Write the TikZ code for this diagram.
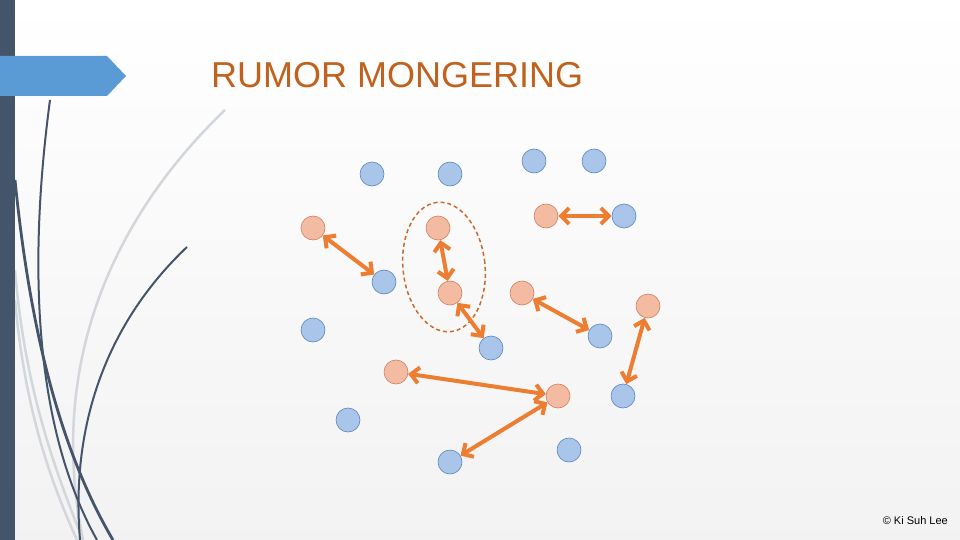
\documentclass[tikz,border=0pt]{standalone}
\usepackage{fontspec}
\setmainfont{Liberation Sans}
\usetikzlibrary{arrows.meta,shapes.geometric}

\definecolor{slate}{HTML}{44546A}
\definecolor{banner}{HTML}{5B9BD5}
\definecolor{titlec}{HTML}{C0621E}
\definecolor{bfill}{HTML}{A9C5E9}
\definecolor{bline}{HTML}{5A86BE}
\definecolor{ofill}{HTML}{F4BBA3}
\definecolor{oline}{HTML}{CF7F5F}
\definecolor{rumorc}{HTML}{ED7D31}
\definecolor{swooshg}{HTML}{D3D6DB}

\begin{document}
\begin{tikzpicture}[x=1pt,y=-1pt,
  bdot/.style={circle,draw=bline,fill=bfill,line width=0.6pt,minimum size=24pt,inner sep=0pt},
  odot/.style={circle,draw=oline,fill=ofill,line width=0.6pt,minimum size=24pt,inner sep=0pt},
  rumor/.style={draw=rumorc,line width=4pt,
    {Straight Barb[length=8pt,width=16pt]}-{Straight Barb[length=8pt,width=16pt]}},
  darkline/.style={draw=slate,line width=2pt},
  lightline/.style={draw=swooshg,line width=2.5pt}]

\useasboundingbox (0,0) rectangle (960,540);
\shade[top color=white,bottom color=black!5] (0,0) rectangle (960,540);

% left decoration
\draw[lightline] (225,110) .. controls (100,230) and (50,380) .. (83,540);
\draw[lightline] (15,270) .. controls (25,390) and (55,470) .. (83,540);
\draw[lightline] (15,300) .. controls (25,410) and (50,480) .. (77,540);
\draw[darkline] (50,100) .. controls (30,250) and (30,420) .. (97,540);
\draw[darkline,line width=2.8pt] (15,180) .. controls (30,330) and (60,450) .. (113,540);
\draw[darkline] (187,247) .. controls (110,320) and (70,420) .. (80,540);
\fill[slate] (0,0) rectangle (15,540);
\fill[banner] (0,56) -- (107,56) -- (126,76) -- (107,96) -- (0,96) -- cycle;

\node[anchor=base west,text=titlec,font=\fontsize{36}{40}\selectfont,inner sep=0pt] (title) at (211,88) {RUMOR MONGERING};
\node[anchor=base east,font=\fontsize{11}{12}\selectfont,inner sep=0pt] (credit) at (948,524) {© Ki Suh Lee};

% group around the two close nodes
\node[ellipse,draw=rumorc!85!black,dash pattern=on 4pt off 3pt,line width=1.5pt,minimum width=82pt,minimum height=130pt,rotate=6] (grp) at (444,267) {};

% uninformed nodes
\node[bdot] (b1) at (372,174) {};
\node[bdot] (b2) at (450,174) {};
\node[bdot] (b3) at (534,161) {};
\node[bdot] (b4) at (594,161) {};
\node[bdot] (b5) at (624,216) {};
\node[bdot] (b6) at (384,282) {};
\node[bdot] (b7) at (313,330) {};
\node[bdot] (b8) at (491,348) {};
\node[bdot] (b9) at (600,336) {};
\node[bdot] (b10) at (623,396) {};
\node[bdot] (b11) at (348,420) {};
\node[bdot] (b12) at (569,450) {};
\node[bdot] (b13) at (450,462) {};

% infected nodes
\node[odot] (o1) at (313,228) {};
\node[odot] (o2) at (438,228) {};
\node[odot] (o3) at (546,216) {};
\node[odot] (o4) at (450,293) {};
\node[odot] (o5) at (522,293) {};
\node[odot] (o6) at (648,306) {};
\node[odot] (o7) at (396,372) {};
\node[odot] (o8) at (558,396) {};

\draw[rumor] (o1) -- (b6);
\draw[rumor] (o2) -- (o4);
\draw[rumor] (o4) -- (b8);
\draw[rumor] (o3) -- (b5);
\draw[rumor] (o5) -- (b9);
\draw[rumor] (o6) -- (b10);
\draw[rumor] (o7) -- (o8);
\draw[rumor] (o8) -- (b13);

\end{tikzpicture}
\end{document}
